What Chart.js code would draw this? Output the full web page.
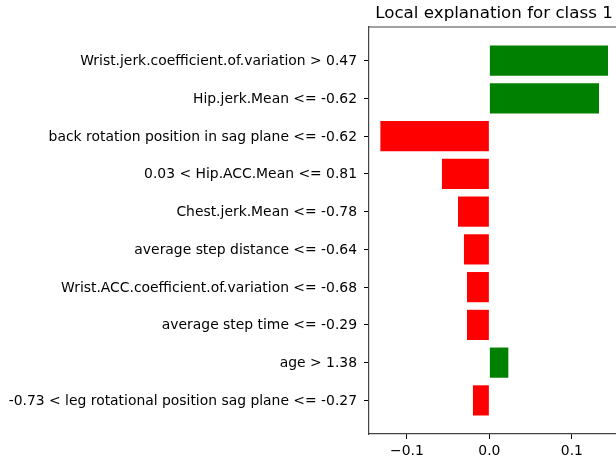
<!DOCTYPE html>
<html>
<head>
<meta charset="utf-8">
<script src="https://cdn.jsdelivr.net/npm/chart.js@4"></script>
<style>
  html, body { margin: 0; padding: 0; background: #fff; }
  canvas { display: block; }
</style>
</head>
<body>
<canvas id="chart" width="616" height="462"></canvas>
<script>
const labels = [
  "Wrist.jerk.coefficient.of.variation > 0.47",
  "Hip.jerk.Mean <= -0.62",
  "back rotation position in sag plane <= -0.62",
  "0.03 < Hip.ACC.Mean <= 0.81",
  "Chest.jerk.Mean <= -0.78",
  "average step distance <= -0.64",
  "Wrist.ACC.coefficient.of.variation <= -0.68",
  "average step time <= -0.29",
  "age > 1.38",
  "-0.73 < leg rotational position sag plane <= -0.27"
];
const weights = [0.1438, 0.1329, -0.1321, -0.0575, -0.038, -0.0308, -0.0271, -0.0271, 0.023, -0.0199];
const xTicks = [-0.1, 0.0, 0.1];
const title = "Local explanation for class 1";

Chart.defaults.font.family = "'DejaVu Sans', sans-serif";
Chart.defaults.color = "#000";

// axes top spine + title centred on the plot area, like matplotlib does
const frame = {
  id: "frame",
  afterDraw(chart) {
    const { ctx, chartArea: a } = chart;
    ctx.save();
    ctx.strokeStyle = "#444";
    ctx.lineWidth = 1.2;
    ctx.beginPath();
    ctx.moveTo(a.left, a.top);
    ctx.lineTo(a.right, a.top);
    ctx.stroke();
    ctx.fillStyle = "#000";
    ctx.font = "16.7px 'DejaVu Sans'";
    ctx.textAlign = "center";
    ctx.textBaseline = "alphabetic";
    ctx.fillText(title, 494, 18);
    ctx.restore();
  }
};

new Chart(document.getElementById("chart"), {
  type: "bar",
  data: {
    datasets: [{
      data: weights.map((w, i) => ({ x: w, y: i })),
      backgroundColor: weights.map(w => w > 0 ? "#008000" : "#ff0000"),
      categoryPercentage: 0.8,
      barPercentage: 1.0
    }]
  },
  options: {
    indexAxis: "y",
    responsive: false,
    animation: false,
    layout: { padding: { top: 27, right: 0, left: 0, bottom: 0 } },
    plugins: { legend: { display: false }, tooltip: { enabled: false } },
    scales: {
      y: {
        type: "linear",
        reverse: true,
        offset: false,
        min: -0.89,
        max: 9.89,
        afterBuildTicks: s => { s.ticks = labels.map((_, i) => ({ value: i })); },
        afterFit: s => { s.width = 369; },
        ticks: {
          callback: v => labels[v],
          font: { size: 13.9 },
          color: "#000",
          padding: 7,
          labelOffset: 1,
          autoSkip: false
        },
        grid: { offset: false, drawOnChartArea: false, drawTicks: true, tickLength: 5, color: "#000" },
        border: { display: true, color: "#444", width: 1.2 }
      },
      x: {
        type: "linear",
        min: -0.1459,
        max: 0.1535,
        afterBuildTicks: s => { s.ticks = xTicks.map(v => ({ value: v })); },
        afterFit: s => { s.height = 28; },
        ticks: {
          callback: v => (v < 0 ? "\u2212" : "") + Math.abs(v).toFixed(1),
          font: { size: 13.9 },
          color: "#000",
          padding: 4,
          maxRotation: 0
        },
        grid: { drawOnChartArea: false, drawTicks: true, tickLength: 5, color: "#000" },
        border: { display: true, color: "#444", width: 1.2 }
      }
    }
  },
  plugins: [frame]
});
</script>
</body>
</html>
